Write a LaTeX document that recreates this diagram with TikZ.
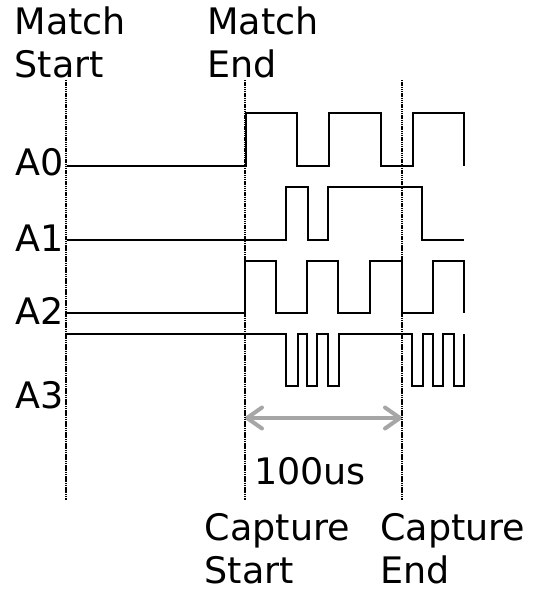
\documentclass[tikz,border=0pt]{standalone}
\usepackage{fontspec}
\setmainfont{DejaVu Sans}
\usepackage{tikz}
\usetikzlibrary{arrows.meta}
\definecolor{spangray}{RGB}{166,166,166}
\tikzset{
  lbl/.style={inner sep=0pt,align=left,font=\fontsize{36.5}{43}\selectfont},
  wave/.style={black,line width=1.1pt},
  marker/.style={black,line width=2pt,dash pattern=on 1.5pt off 0.7pt},
  span/.style={spangray,line width=4pt,{Straight Barb[length=15pt,width=21pt,round]}-{Straight Barb[length=15pt,width=21pt,round]}}
}

\begin{document}
\begin{tikzpicture}[x=1pt,y=-1pt]
  \useasboundingbox (0,0) rectangle (534,593);

  \node[lbl,anchor=base west] (mstart) at (14.5,77.5) {Match\\Start};
  \node[lbl,anchor=base west] (mend) at (207,77.5) {Match\\End};
  \node[lbl,anchor=base west] (cstart) at (204.5,583) {Capture\\Start};
  \node[lbl,anchor=base west] (cend) at (380,583) {Capture\\End};
  \node[lbl,anchor=base west] (dur) at (254,484.3) {100us};

  \node[lbl,anchor=base east] (la0) at (64,176) {A0};
  \node[lbl,anchor=base east] (la1) at (64,251.7) {A1};
  \node[lbl,anchor=base east] (la2) at (64,324) {A2};
  \node[lbl,anchor=base east] (la3) at (64,408) {A3};

  \coordinate (mstop) at (66,80);
  \coordinate (msbot) at (66,500);
  \coordinate (metop) at (245,80);
  \coordinate (mebot) at (245,500);
  \coordinate (cetop) at (402,80);
  \coordinate (cebot) at (402,500);
  \coordinate (spanl) at (245,418);
  \coordinate (spanr) at (402,418);

  \draw[span] (spanl) -- (spanr);

  \draw[marker] (mstop) -- (msbot);
  \draw[marker] (metop) -- (mebot);
  \draw[marker] (cetop) -- (cebot);

  \draw[wave] (67,166) -| (246,113) -| (297,166) -| (329,113) -| (381,166) -| (413,113) -| (464,166);
  \draw[wave] (67,240) -| (286,187) -| (308,240) -| (328,187) -| (422,240) -- (464,240);
  \draw[wave] (67,313) -| (245,261) -| (276,313) -| (307,261) -| (338,313) -| (370,261) -| (402,313) -| (433,261) -| (464,313);
  \draw[wave] (67,334) -| (286,386) -| (298,334) -| (307,386) -| (317,334) -| (328,386) -| (339,334) -| (412,386) -| (423,334) -| (433,386) -| (443,334) -| (454,386) -| (464,334);
\end{tikzpicture}
\end{document}
